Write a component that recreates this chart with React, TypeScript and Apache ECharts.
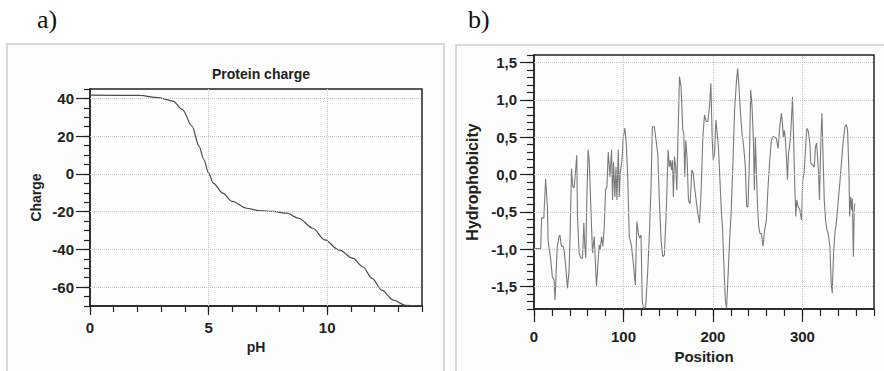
import React, { useEffect, useRef } from "react";
import * as echarts from "echarts";

// ---- Panel a) Protein charge vs pH ----
const PH = [0, 2.1, 2.9, 3.5, 3.9, 4.3, 4.6, 4.8, 5.0, 5.2, 5.6, 6.0, 6.6, 7.1, 7.7, 8.3, 8.8, 9.4, 9.9, 10.5, 11.1, 11.5, 11.9, 12.3, 12.8, 13.3, 14.0];
const CHARGE = [41.8, 41.6, 40.4, 38.6, 34.1, 25.3, 14.6, 7.6, 0.5, -4.9, -10.2, -14.6, -18.2, -19.4, -19.9, -20.8, -23.5, -28.8, -35.0, -40.3, -44.8, -49.2, -55.4, -61.6, -66.9, -69.6, -70.0];
const PH_TICKS = [0, 5, 10];
const CHARGE_TICKS = [-60, -40, -20, 0, 20, 40];

// ---- Panel b) Hydrophobicity vs position ----
const POSITION = [
  0, 7.5, 8.5, 11, 13, 15, 15.7, 18.7, 20.5, 22.4,
  23.5, 26, 28, 29, 30.6, 32.5, 33.6, 35.5, 37.4, 39.2,
  40.4, 41.9, 43.3, 44.8, 46.3, 47.8, 48.6, 50.4, 52.3, 54.2,
  55.7, 56.8, 57.9, 59, 60.5, 61.7, 63.5, 65.4, 67.3, 68.4,
  69.9, 71.7, 72.9, 74, 75.5, 77, 78.5, 80, 81.5, 83,
  84.1, 84.8, 86.7, 87.8, 88.9, 90.4, 91.6, 92.7, 94.2, 95.3,
  96.4, 98.3, 99.8, 101.6, 103.1, 104.6, 106.5, 109, 111.4, 113.2,
  115, 116.6, 118, 119.6, 121, 122.6, 124.8, 127, 129, 130.8,
  132.3, 134.5, 136.4, 138.3, 140.1, 142, 143.9, 145.7, 147.6, 148.7,
  149.9, 151.3, 152.5, 153.6, 154.7, 155.8, 157, 158.4, 159.6, 161,
  162.6, 164.4, 166.3, 167.4, 168.5, 169.7, 171.2, 172.6, 174.5, 176.4,
  177.9, 179.4, 181.2, 183.1, 185, 186.8, 188.7, 190.6, 192.5, 194.3,
  196.2, 197.7, 199.2, 200.3, 201.8, 203.3, 204.8, 206.3, 207.8, 209.3,
  210.8, 212.3, 213.8, 215.2, 216.7, 218.6, 220.5, 222.4, 224.2, 226.1,
  227.6, 229.1, 230.6, 232.5, 234.4, 236.2, 237.7, 239.2, 240.7, 242.2,
  243.7, 245.2, 246.3, 247.4, 248.5, 249.6, 251.1, 252.6, 254.1, 256,
  257.8, 259.7, 261.6, 263.5, 265.3, 267.2, 269.1, 270.9, 272.8, 274.7,
  276.5, 277.7, 278.8, 279.9, 281, 282.1, 283.3, 284.4, 285.5, 286.6,
  287.7, 288.9, 290, 291.5, 292.6, 293.7, 295.2, 297.1, 299, 300.4,
  301.9, 303.4, 304.9, 306.4, 308.3, 309.4, 311.3, 313.2, 314.6, 315.8,
  316.9, 318, 319.1, 320.6, 321.8, 322.9, 324.4, 325.9, 327.4, 328.8,
  330.7, 332.2, 333.3, 334.8, 336.3, 338.2, 340.1, 341.9, 343.8, 345.7,
  347.5, 349, 350.5, 352, 352.8, 353.9, 355, 355.8, 356.9, 358,
  358.7,
];
const HYDRO = [
  -0.99, -0.99, -0.58, -0.58, -0.06, -0.43, -0.88, -1.14, -1.37, -1.41,
  -1.68, -0.96, -0.83, -0.81, -0.96, -0.96, -1.01, -1.23, -1.52, -1.28,
  -0.79, 0.08, -0.16, -0.18, 0.02, 0.26, -0.56, -1.05, -1.12, -1.12,
  -0.65, -0.96, -1.12, -0.34, 0.33, 0.19, -0.43, -1.05, -0.83, -1.12,
  -1.5, -1.14, -0.94, -1.01, -0.83, -0.96, -0.7, -0.21, -0.16, 0.3,
  0.1, -0.03, 0.33, -0.34, 0.17, -0.3, 0.1, -0.34, 0.33, -0.3,
  0.02, 0.19, 0.5, 0.62, 0.42, 0.02, -0.83, -0.96, -1.23, -1.48,
  -0.63, -0.79, -0.85, -0.81, -1.7, -1.79, -1.77, -1.32, -0.79, -0.16,
  0.64, 0.64, 0.46, 0.28, -0.34, -0.88, -1.1, -1.08, -0.56, -0.16,
  0.33, 0.1, 0.19, 0.06, 0.19, -0.3, 0.24, 0.1, -0.21, 0.55,
  1.31, 1.17, 0.59, 0.55, -0.03, 0.46, 0.19, -0.34, -0.39, 0.06,
  0.02, -0.16, -0.34, -0.52, -0.65, -0.21, 0.5, 0.8, 0.71, 0.71,
  0.91, 1.22, 0.46, 0.19, 0.28, 0.73, 0.55, 0.33, -0.07, -0.47,
  -0.74, -1.23, -1.68, -1.79, -1.41, -0.88, -0.47, 0.19, 0.86, 1.22,
  1.42, 1.17, 0.86, 0.55, 0.37, 0.1, -0.43, -0.43, 0.19, 1.13,
  0.91, 0.46, -0.21, 0.5, 0.06, -0.34, -0.7, -0.79, -0.79, -0.96,
  -0.74, -0.61, -0.16, 0.19, 0.46, 0.51, 0.5, 0.48, 0.35, 0.64,
  0.82, 0.68, 0.5, 0.59, 0.46, 0.24, -0.07, 0.28, 0.37, 0.5,
  0.73, 1.04, 0.55, -0.16, -0.56, -0.34, -0.43, -0.47, -0.61, -0.07,
  0.02, 0.33, 0.62, 0.59, 0.42, 0.15, 0.13, 0.1, 0.37, 0.42,
  0.24, 0.02, -0.34, 0.46, 0.82, 0.33, -0.34, -0.61, -0.74, -0.79,
  -0.96, -1.46, -1.59, -1.05, -0.79, -0.61, -0.34, -0.1, 0.19, 0.46,
  0.64, 0.67, 0.59, 0.02, -0.56, -0.3, -0.47, -0.32, -1.1, -0.43,
  -0.39,
];
const POSITION_TICKS = [0, 100, 200, 300];
const HYDRO_TICKS = [-1.5, -1, -0.5, 0, 0.5, 1, 1.5];

const FONT = "Liberation Sans, Arial, sans-serif";
const AXIS_COLOR = "#222";
const LABEL_STYLE = { color: "#222", fontFamily: FONT, fontWeight: "bold" as const, fontSize: 15 };

export default function App() {
  const ref = useRef<HTMLDivElement>(null);

  useEffect(() => {
    if (!ref.current) return;
    const chart = echarts.init(ref.current, undefined, { renderer: "svg" });

    const axisLine = { show: true, onZero: false, lineStyle: { color: AXIS_COLOR, width: 1.5 } };
    const noLine = { show: false, onZero: false };
    const hide = { show: false };
    const tickStyle = { color: AXIS_COLOR, width: 1.2 };

    const minorX = (grid: number, min: number, max: number, interval: number, len: number) => ({
      type: "value", gridIndex: grid, min, max, interval, position: "bottom",
      axisLine, axisTick: { show: true, length: len, lineStyle: tickStyle },
      axisLabel: hide, splitLine: hide,
    });
    const majorX = (grid: number, min: number, max: number, interval: number, ticks: number[], len: number, margin: number, name: string, gap: number, nameSize: number, fmt: (v: number) => string) => ({
      type: "value", gridIndex: grid, min, max, interval, position: "bottom",
      axisLine: noLine,
      axisTick: { show: true, length: len, customValues: ticks, lineStyle: tickStyle },
      axisLabel: { show: true, customValues: ticks, margin, formatter: fmt, ...LABEL_STYLE },
      splitLine: hide,
      name, nameLocation: "middle", nameGap: gap, nameTextStyle: { ...LABEL_STYLE, fontSize: nameSize },
    });
    const minorY = (grid: number, min: number, max: number, interval: number, len: number) => ({
      type: "value", gridIndex: grid, min, max, interval, position: "left",
      axisLine, axisTick: { show: true, length: len, lineStyle: tickStyle },
      axisLabel: hide, splitLine: hide,
    });
    const majorY = (grid: number, min: number, max: number, interval: number, ticks: number[], len: number, margin: number, name: string, gap: number, nameSize: number, fmt: (v: number) => string) => ({
      type: "value", gridIndex: grid, min, max, interval, position: "left",
      axisLine: noLine,
      axisTick: { show: true, length: len, customValues: ticks, lineStyle: tickStyle },
      axisLabel: { show: true, customValues: ticks, margin, formatter: fmt, ...LABEL_STYLE },
      splitLine: hide,
      name, nameLocation: "middle", nameGap: gap, nameRotate: 90, nameTextStyle: { ...LABEL_STYLE, fontSize: nameSize },
    });

    const gridLine = { type: "dotted", color: "#c4c4c4", width: 1 };
    const fmtComma = (v: number) => v.toFixed(1).replace(".", ",");
    const fmtInt = (v: number) => String(v);

    chart.setOption({
      animation: false,
      backgroundColor: "#ffffff",
      title: {
        text: "Protein charge",
        left: 256, top: 62, textAlign: "center",
        textStyle: { ...LABEL_STYLE, fontSize: 14 },
      },
      graphic: [
        { type: "rect", z: -10, shape: { x: 7, y: 44, width: 437, height: 340 }, style: { fill: "#fdfdfd", stroke: "#d9d9d9", lineWidth: 2 } },
        { type: "rect", z: -10, shape: { x: 456, y: 45, width: 440, height: 340 }, style: { fill: "#fdfdfd", stroke: "#d9d9d9", lineWidth: 2 } },
        { type: "text", left: 37, top: 6, style: { text: "a)", fontFamily: "Liberation Serif, Times New Roman, serif", fontSize: 26, fill: "#111" } },
        { type: "text", left: 468, top: 6, style: { text: "b)", fontFamily: "Liberation Serif, Times New Roman, serif", fontSize: 26, fill: "#111" } },
      ],
      grid: [
        { left: 90, top: 89, width: 332, height: 217, show: true, borderColor: AXIS_COLOR, borderWidth: 1.5, backgroundColor: "transparent" },
        { left: 534, top: 55, width: 340, height: 254, show: true, borderColor: AXIS_COLOR, borderWidth: 1.5, backgroundColor: "transparent" },
      ],
      xAxis: [
        minorX(0, 0, 14, 1, 6),
        majorX(0, 0, 14, 1, PH_TICKS, 9, 14, "pH", 31, 14, fmtInt),
        minorX(1, 0, 380, 20, 7),
        majorX(1, 0, 380, 20, POSITION_TICKS, 13, 20, "Position", 37, 15, fmtInt),
      ],
      yAxis: [
        minorY(0, -70, 45, 5, 6),
        majorY(0, -70, 45, 5, CHARGE_TICKS, 14, 16, "Charge", 47, 14, fmtInt),
        minorY(1, -1.8, 1.6, 0.1, 7),
        majorY(1, -1.8, 1.6, 0.1, HYDRO_TICKS, 14, 17, "Hydrophobicity", 54, 16, fmtComma),
      ],
      series: [
        {
          type: "line", xAxisIndex: 0, yAxisIndex: 0,
          data: PH.map((x, i) => [x, CHARGE[i]]),
          smooth: 0.3, smoothMonotone: "x", showSymbol: false, symbol: "none",
          lineStyle: { color: "#4a4a4a", width: 1.2 },
          markLine: {
            silent: true, symbol: "none", label: { show: false }, lineStyle: gridLine,
            data: [
              ...CHARGE_TICKS.map((v) => ({ yAxis: v })),
              ...PH_TICKS.filter((v) => v > 0).map((v) => ({ xAxis: v })),
            ],
          },
        },
        {
          type: "line", xAxisIndex: 2, yAxisIndex: 2,
          data: POSITION.map((x, i) => [x, HYDRO[i]]),
          showSymbol: false, symbol: "none",
          lineStyle: { color: "#7a7a7a", width: 1.1 },
          markLine: {
            silent: true, symbol: "none", label: { show: false }, lineStyle: gridLine,
            data: [
              ...HYDRO_TICKS.map((v) => ({ yAxis: v })),
              ...POSITION_TICKS.filter((v) => v > 0).map((v) => ({ xAxis: v })),
            ],
          },
        },
      ],
    });

    return () => chart.dispose();
  }, []);

  return (
    <div
      ref={ref}
      style={{ position: "fixed", left: 0, top: 0, width: 884, height: 371 }}
    />
  );
}
